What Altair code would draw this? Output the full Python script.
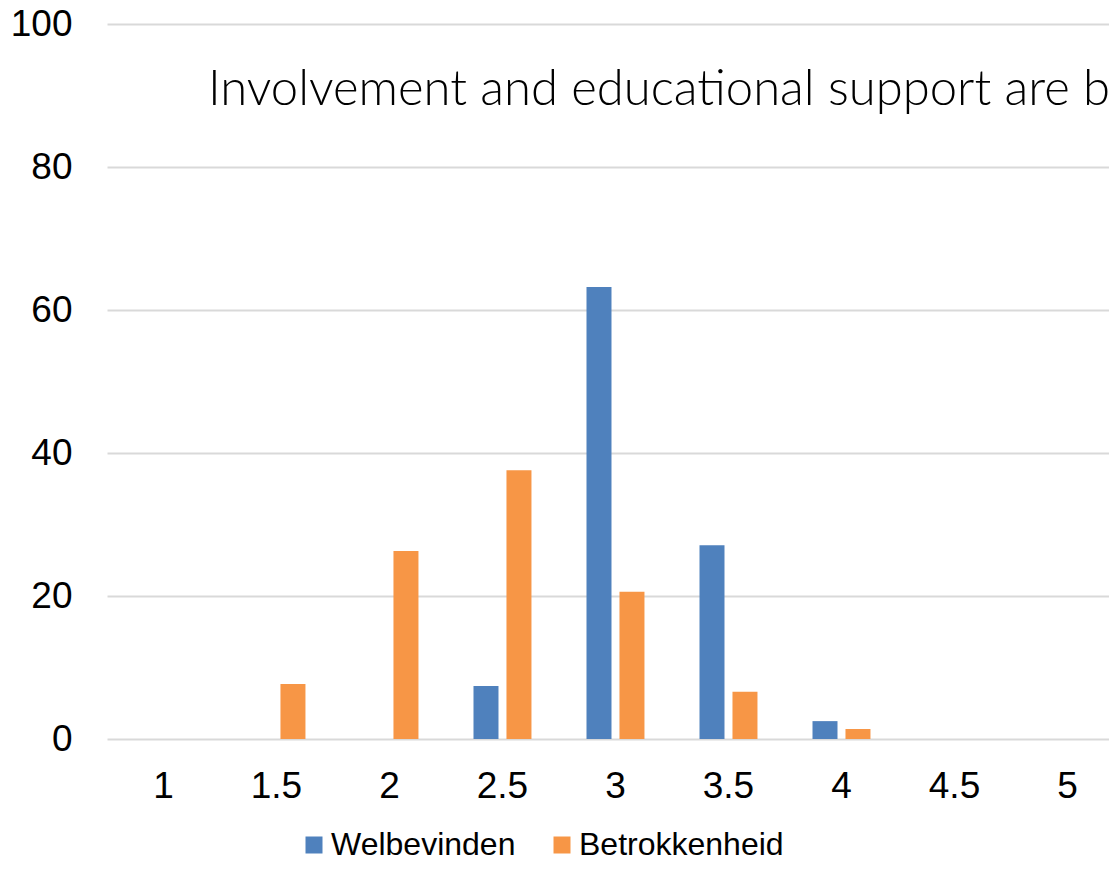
import altair as alt
import pandas as pd

categories = ["1", "1.5", "2", "2.5", "3", "3.5", "4", "4.5", "5"]
series_names = ["Welbevinden", "Betrokkenheid"]
welbevinden = [0, 0, 0, 7.4, 63.2, 27.1, 2.5, 0, 0]
betrokkenheid = [0, 7.7, 26.3, 37.6, 20.6, 6.6, 1.4, 0, 0]
y_ticks = [0, 20, 40, 60, 80, 100]
title_text = "Involvement and educational support are b"
colors = ["#4F81BD", "#F79646"]

rows = []
for c, w, b in zip(categories, welbevinden, betrokkenheid):
    rows.append({"cat": c, "series": series_names[0], "value": w})
    rows.append({"cat": c, "series": series_names[1], "value": b})
df = pd.DataFrame(rows)

LABEL_FONT = "Liberation Sans, Arial"

bars = alt.Chart(df).mark_bar().encode(
    x=alt.X(
        "cat:N",
        sort=categories,
        scale=alt.Scale(paddingInner=0.487, paddingOuter=0.177, align=0.687),
        axis=alt.Axis(
            title=None, labelAngle=0, ticks=False, domain=False,
            labelFont=LABEL_FONT, labelFontSize=37, labelColor="#000000",
            labelPadding=29,
        ),
    ),
    xOffset=alt.XOffset(
        "series:N", sort=series_names,
        scale=alt.Scale(paddingInner=0.242, paddingOuter=0),
    ),
    y=alt.Y(
        "value:Q",
        scale=alt.Scale(domain=[0, 100], nice=False),
        axis=alt.Axis(
            title=None, values=y_ticks, ticks=False, domain=False,
            grid=True, gridColor="#d9d9d9", gridWidth=2,
            labelFont=LABEL_FONT, labelFontSize=37, labelColor="#000000",
            labelPadding=35,
        ),
    ),
    color=alt.Color(
        "series:N", sort=series_names,
        scale=alt.Scale(domain=series_names, range=colors),
        legend=alt.Legend(
            title=None, orient="none", direction="horizontal",
            legendX=191, legendY=805,
            symbolType="square", symbolSize=289, symbolStrokeWidth=0,
            labelFont=LABEL_FONT, labelFontSize=32, labelColor="#000000",
            labelOffset=1, columnPadding=30, padding=0, labelLimit=500,
        ),
    ),
)

title = alt.Chart(pd.DataFrame({"t": [title_text]})).mark_text(
    align="left", baseline="alphabetic", font="Lato", fontWeight=300,
    fontSize=49, color="#000000",
).encode(text="t:N", x=alt.value(101), y=alt.value(81))

chart = alt.layer(bars, title).properties(
    width=1002, height=715,
    autosize=alt.AutoSizeParams(type="none"),
    padding={"left": 99, "top": 16, "right": 0, "bottom": 123},
).configure_view(stroke=None)

chart.save("out.html", embed_options={"renderer": "svg", "actions": False})
